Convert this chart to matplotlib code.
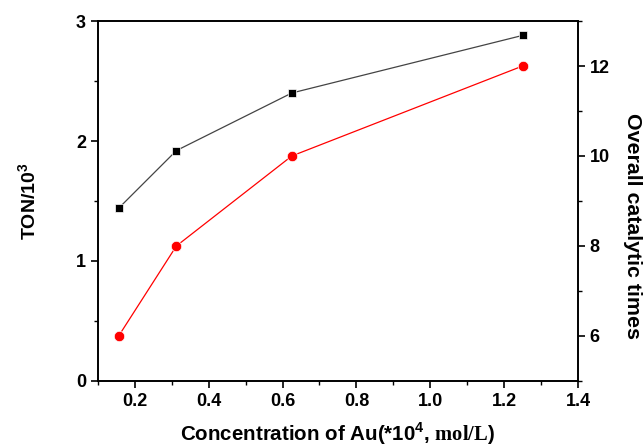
import matplotlib.pyplot as plt
from matplotlib.ticker import MultipleLocator

plt.rcParams['font.family'] = ['Liberation Sans', 'DejaVu Sans']
plt.rcParams['font.weight'] = 'bold'
plt.rcParams['mathtext.fontset'] = 'custom'
plt.rcParams['mathtext.rm'] = 'Liberation Sans:bold'
plt.rcParams['mathtext.bf'] = 'Liberation Serif:bold'

# Au concentration (*10^4 mol/L)
conc = [0.15625, 0.3125, 0.625, 1.25]
# turnover number / 10^3
ton = [1.44, 1.92, 2.40, 2.88]
# overall catalytic times
cycles = [6, 8, 10, 12]

fig = plt.figure(figsize=(6.44, 4.48), dpi=100)
ax = fig.add_axes([0.152, 0.1496, 0.7455, 0.8035])
ax2 = ax.twinx()

ax.plot(conc, ton, color='#444444', lw=0.9, marker='s', ms=6,
        mfc='black', mec='white', mew=0.5)
ax2.plot(conc, cycles, color='red', lw=0.9, marker='o', ms=7.5,
         mfc='red', mec='white', mew=0.5)

ax.set_xlim(0.1, 1.4)
ax.set_ylim(0, 3)
ax2.set_ylim(5, 13)

ax.xaxis.set_major_locator(MultipleLocator(0.2))
ax.xaxis.set_minor_locator(MultipleLocator(0.1))
ax.yaxis.set_major_locator(MultipleLocator(1))
ax.yaxis.set_minor_locator(MultipleLocator(0.5))
ax2.yaxis.set_minor_locator(MultipleLocator(1))
ax2.set_yticks([6, 8, 10, 12])

ax.xaxis.set_major_formatter(plt.FuncFormatter(lambda v, p: '%.1f' % v))

for a in (ax, ax2):
    for s in a.spines.values():
        s.set_linewidth(1.2)
    a.tick_params(which='major', direction='out', length=5, width=1.2,
                  labelsize=13)
    a.tick_params(which='minor', direction='out', length=3, width=1.0)
ax.tick_params(axis='x', which='both', top=False)

ax.set_ylabel('TON/10$^{3}$', fontsize=14, fontweight='bold',
              labelpad=26)
ax2.set_ylabel('Overall catalytic times', fontsize=15.4, fontweight='bold',
               rotation=270, va='center', ha='center')
ax2.yaxis.set_label_coords(1.113, 0.43)

ax.set_xlabel('Concentration of Au(*10$^{4}$, $\\mathbf{mol/L}$)',
              fontsize=14.8, fontweight='bold', labelpad=8)

fig.savefig('out.png', dpi=100)
